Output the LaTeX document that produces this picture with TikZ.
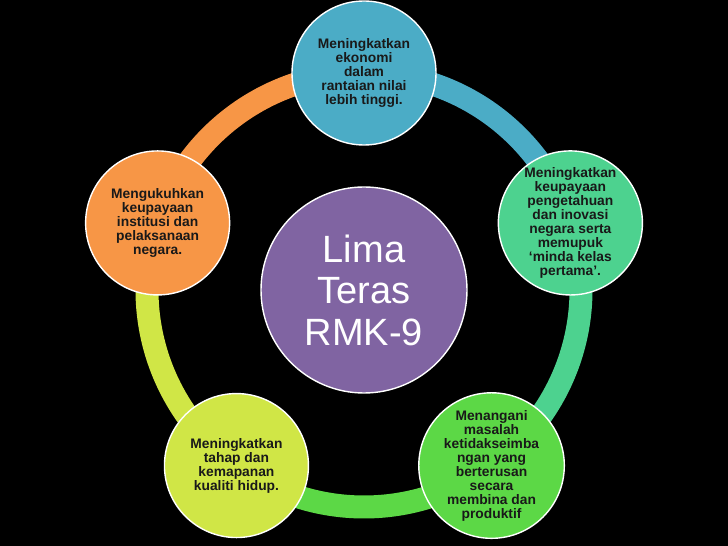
\documentclass[tikz,border=0pt]{standalone}
\usepackage{fontspec}
\setmainfont{Liberation Sans}
\definecolor{teras1}{HTML}{4BACC6}
\definecolor{teras2}{HTML}{4DD28F}
\definecolor{teras3}{HTML}{5CD846}
\definecolor{teras4}{HTML}{D0E646}
\definecolor{teras5}{HTML}{F79646}
\definecolor{tengah}{HTML}{8064A2}
\pgfdeclarelayer{ring}
\pgfsetlayers{ring,main}
\tikzset{
  teras/.style={circle, draw=white, line width=1.4pt, minimum size=144pt, inner sep=0pt,
    align=center, text=black!90, font=\bfseries\fontsize{13.8}{14}\selectfont},
  gelang/.style={line width=23pt}
}
\begin{document}
\begin{tikzpicture}[x=1pt, y=1pt]
    \useasboundingbox (0, 0) rectangle (728, 546);
    \begin{pgfonlayer}{ring}
        \fill[black] (0, 0) rectangle (728, 546);
    \end{pgfonlayer}
    \begin{scope}[shift={(364, 256)}]
        \node[circle, draw=white, line width=1.4pt, fill=tengah, minimum size=206pt, inner sep=0pt,
            align=center, text=white, font=\fontsize{38}{41.5}\selectfont] (pusat) at (0, 0) {Lima\\Teras\\RMK-9};
        \node[teras, fill=teras1] (t1) at (90:217) {Meningkatkan\\ekonomi\\dalam\\rantaian nilai\\lebih tinggi.};
        \node[teras, fill=teras2] (t2) at (18:217) {Meningkatkan\\keupayaan\\pengetahuan\\dan inovasi\\negara serta\\memupuk\\‘minda kelas\\pertama’.};
        \node[teras, fill=teras3] (t3) at (-54:217) {Menangani\\masalah\\ketidakseimba\\ngan yang\\berterusan\\secara\\membina dan\\produktif};
        \node[teras, fill=teras4] (t4) at (-126:217) {Meningkatkan\\tahap dan\\kemapanan\\kualiti hidup.};
        \node[teras, fill=teras5] (t5) at (162:217) {Mengukuhkan\\keupayaan\\institusi dan\\pelaksanaan\\negara.};
        \begin{pgfonlayer}{ring}
            \foreach \n/\a/\c in {t1/90/teras1, t2/18/teras2, t3/-54/teras3, t4/-126/teras4, t5/162/teras5}
                \draw[gelang, \c] (\n.center) arc[start angle=\a, delta angle=-72, radius=217];
        \end{pgfonlayer}
    \end{scope}
\end{tikzpicture}
\end{document}
